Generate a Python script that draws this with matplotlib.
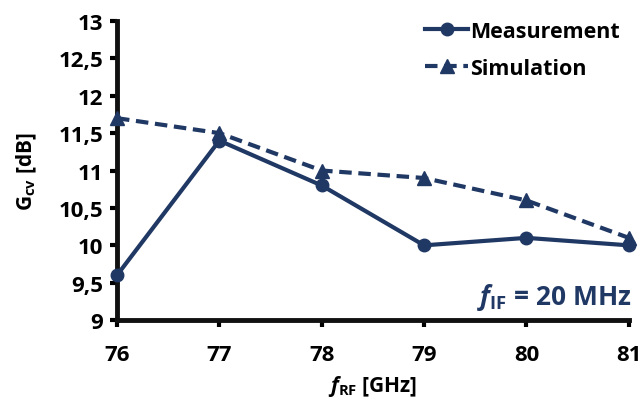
import matplotlib
matplotlib.use("Agg")
import matplotlib.pyplot as plt

# Data
f_rf = [76, 77, 78, 79, 80, 81]
measurement = [9.6, 11.4, 10.8, 10.0, 10.1, 10.0]
simulation = [11.7, 11.5, 11.0, 10.9, 10.6, 10.1]
y_ticks = [9, 9.5, 10, 10.5, 11, 11.5, 12, 12.5, 13]
y_labels = ['9', '9,5', '10', '10,5', '11', '11,5', '12', '12,5', '13']

navy = '#203864'

plt.rcParams['font.family'] = ['Open Sans', 'DejaVu Sans']
plt.rcParams['font.weight'] = 'bold'
plt.rcParams['axes.labelweight'] = 'bold'
plt.rcParams['mathtext.fontset'] = 'custom'
plt.rcParams['mathtext.rm'] = 'Open Sans:bold'
plt.rcParams['mathtext.it'] = 'Open Sans:bold:italic'
plt.rcParams['mathtext.bf'] = 'Open Sans:bold'

fig = plt.figure(figsize=(6.41, 4.06), dpi=100)
ax = fig.add_axes([0.1825, 0.209, 0.7985, 0.737])

ax.plot(f_rf, measurement, '-o', color=navy, lw=3, ms=9, label='Measurement', clip_on=False, zorder=3)
ax.plot(f_rf, simulation, '--^', color=navy, lw=3, ms=10, dashes=(3, 1.6), label='Simulation', clip_on=False, zorder=3)

ax.set_xlim(76, 81)
ax.set_ylim(9, 13)
ax.set_xticks(f_rf)
ax.set_yticks(y_ticks)
ax.set_yticklabels(y_labels)
ax.tick_params(axis='both', direction='out', length=5, width=3, labelsize=16, pad=5)
ax.tick_params(axis='x', pad=12)
for lab in ax.get_xticklabels() + ax.get_yticklabels():
    lab.set_fontweight('bold')

for side in ['top', 'right']:
    ax.spines[side].set_visible(False)
for side in ['left', 'bottom']:
    ax.spines[side].set_linewidth(3.5)
    ax.spines[side].set_color('#111111')

ax.set_xlabel(r'$f_{\mathrm{RF}}$ [GHz]', fontsize=15, labelpad=6)
ax.set_ylabel(r'G$_{\mathrm{cv}}$ [dB]', fontsize=15, labelpad=14)

ax.text(1.005, 0.054, r'$f_{\mathrm{IF}}$ = 20 MHz', transform=ax.transAxes,
        ha='right', va='baseline', fontsize=19, color=navy, fontweight='bold')

ax.legend(loc='upper right', frameon=False, fontsize=15.5, handlelength=2.0,
          handletextpad=0.1, borderaxespad=0.0, labelspacing=0.75,
          bbox_to_anchor=(1.0, 1.03))

fig.savefig('out.png', dpi=100)
